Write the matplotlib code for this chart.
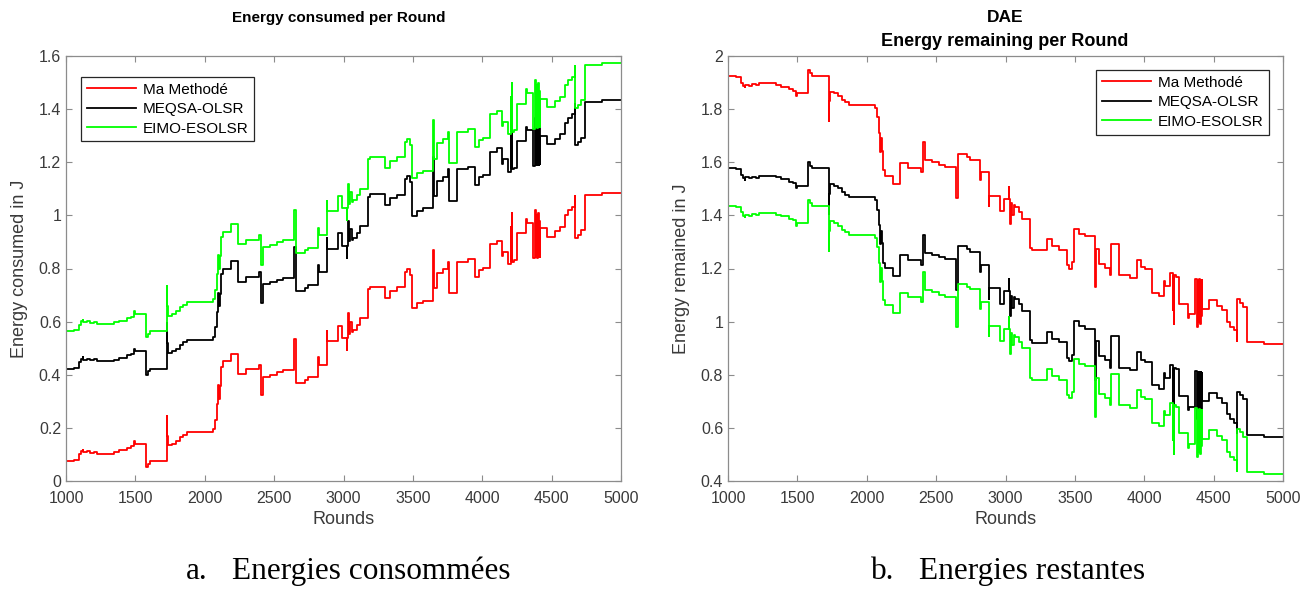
import matplotlib
matplotlib.use("Agg")
import matplotlib.pyplot as plt

rounds = [1000, 1060, 1095, 1105, 1119, 1125, 1150, 1175, 1200, 1226,
          1345, 1380, 1440, 1470, 1490, 1500, 1579, 1590, 1607, 1726,
          1730, 1735, 1762, 1790, 1821, 1845, 1869, 2060, 2075, 2090,
          2098, 2103, 2108, 2119, 2131, 2190, 2238, 2298, 2393, 2405,
          2417, 2470, 2520, 2566, 2643, 2658, 2722, 2746, 2818, 2824,
          2879, 2883, 2963, 2987, 3023, 3028, 3035, 3043, 3050, 3059,
          3071, 3095, 3119, 3179, 3191, 3299, 3335, 3383, 3443, 3455,
          3479, 3491, 3527, 3575, 3647, 3652, 3671, 3719, 3755, 3762,
          3820, 3899, 3947, 3980, 4007, 4055, 4103, 4139, 4151, 4187,
          4204, 4207, 4212, 4216, 4228, 4252, 4315, 4324, 4368, 4380,
          4384, 4392, 4396, 4402, 4406, 4410, 4414, 4416, 4469, 4524,
          4560, 4596, 4620, 4644, 4668, 4672, 4692, 4710, 4740, 4860,
          5000]

# Energy consumed (J)
ma_consumed = [0.075, 0.078, 0.100, 0.112, 0.118, 0.108, 0.112, 0.106, 0.110, 0.103,
               0.108, 0.115, 0.125, 0.130, 0.150, 0.141, 0.052, 0.065, 0.074, 0.246,
               0.170, 0.134, 0.140, 0.150, 0.165, 0.175, 0.184, 0.195, 0.230, 0.290,
               0.360, 0.310, 0.357, 0.430, 0.450, 0.480, 0.403, 0.420, 0.437, 0.324,
               0.393, 0.400, 0.410, 0.418, 0.533, 0.368, 0.380, 0.390, 0.465, 0.437,
               0.565, 0.527, 0.585, 0.537, 0.493, 0.537, 0.631, 0.555, 0.600, 0.560,
               0.568, 0.587, 0.612, 0.722, 0.732, 0.690, 0.716, 0.730, 0.788, 0.800,
               0.776, 0.650, 0.669, 0.679, 0.870, 0.725, 0.782, 0.797, 0.826, 0.707,
               0.826, 0.835, 0.767, 0.795, 0.803, 0.892, 0.905, 0.847, 0.864, 0.816,
               0.958, 0.830, 1.008, 0.826, 0.832, 0.932, 0.986, 0.973, 0.838, 1.020,
               0.842, 1.000, 0.840, 1.010, 0.842, 0.980, 0.845, 0.951, 0.920, 0.940,
               0.958, 1.000, 1.020, 1.033, 1.073, 0.916, 0.928, 0.945, 1.077, 1.086,
               1.086]

meqsa_consumed = [0.423, 0.426, 0.448, 0.460, 0.466, 0.456, 0.460, 0.454, 0.458, 0.451,
                  0.456, 0.463, 0.473, 0.478, 0.498, 0.489, 0.400, 0.413, 0.422, 0.594,
                  0.518, 0.482, 0.488, 0.498, 0.513, 0.523, 0.532, 0.543, 0.578, 0.638,
                  0.708, 0.658, 0.705, 0.778, 0.798, 0.828, 0.751, 0.768, 0.785, 0.672,
                  0.741, 0.748, 0.758, 0.766, 0.881, 0.716, 0.728, 0.738, 0.813, 0.785,
                  0.913, 0.875, 0.933, 0.885, 0.841, 0.885, 0.979, 0.903, 0.948, 0.908,
                  0.916, 0.935, 0.960, 1.070, 1.080, 1.038, 1.064, 1.078, 1.136, 1.148,
                  1.124, 0.998, 1.017, 1.027, 1.218, 1.073, 1.130, 1.145, 1.174, 1.055,
                  1.174, 1.183, 1.115, 1.143, 1.151, 1.240, 1.253, 1.195, 1.212, 1.164,
                  1.306, 1.178, 1.356, 1.174, 1.180, 1.280, 1.334, 1.321, 1.186, 1.368,
                  1.190, 1.348, 1.188, 1.358, 1.190, 1.328, 1.193, 1.299, 1.268, 1.288,
                  1.306, 1.348, 1.368, 1.381, 1.421, 1.264, 1.276, 1.293, 1.425, 1.434,
                  1.434]

eimo_consumed = [0.564, 0.567, 0.589, 0.601, 0.607, 0.597, 0.601, 0.595, 0.599, 0.592,
                 0.597, 0.604, 0.614, 0.619, 0.639, 0.630, 0.541, 0.554, 0.563, 0.735,
                 0.659, 0.623, 0.629, 0.639, 0.654, 0.664, 0.673, 0.684, 0.719, 0.779,
                 0.849, 0.799, 0.846, 0.919, 0.939, 0.969, 0.892, 0.909, 0.926, 0.813,
                 0.882, 0.889, 0.899, 0.907, 1.022, 0.857, 0.869, 0.879, 0.954, 0.926,
                 1.054, 1.016, 1.074, 1.026, 0.982, 1.026, 1.120, 1.044, 1.089, 1.049,
                 1.057, 1.076, 1.101, 1.211, 1.221, 1.179, 1.205, 1.219, 1.277, 1.289,
                 1.265, 1.139, 1.158, 1.168, 1.359, 1.214, 1.271, 1.286, 1.315, 1.196,
                 1.315, 1.324, 1.256, 1.284, 1.292, 1.381, 1.394, 1.336, 1.353, 1.305,
                 1.447, 1.319, 1.497, 1.315, 1.321, 1.421, 1.475, 1.462, 1.327, 1.509,
                 1.331, 1.489, 1.329, 1.499, 1.331, 1.469, 1.334, 1.440, 1.409, 1.429,
                 1.447, 1.489, 1.509, 1.522, 1.562, 1.405, 1.417, 1.434, 1.566, 1.575,
                 1.575]

# Energy remaining (J)
ma_remaining = [1.925, 1.922, 1.900, 1.888, 1.882, 1.892, 1.888, 1.894, 1.890, 1.897,
                1.892, 1.885, 1.875, 1.870, 1.850, 1.859, 1.948, 1.935, 1.926, 1.754,
                1.830, 1.866, 1.860, 1.850, 1.835, 1.825, 1.816, 1.805, 1.770, 1.710,
                1.640, 1.690, 1.643, 1.570, 1.550, 1.520, 1.597, 1.580, 1.563, 1.676,
                1.607, 1.600, 1.590, 1.582, 1.467, 1.632, 1.620, 1.610, 1.535, 1.563,
                1.435, 1.473, 1.415, 1.463, 1.507, 1.463, 1.369, 1.445, 1.400, 1.440,
                1.432, 1.413, 1.388, 1.278, 1.268, 1.310, 1.284, 1.270, 1.212, 1.200,
                1.224, 1.350, 1.331, 1.321, 1.130, 1.275, 1.218, 1.203, 1.174, 1.293,
                1.174, 1.165, 1.233, 1.205, 1.197, 1.108, 1.095, 1.153, 1.136, 1.184,
                1.042, 1.170, 0.992, 1.174, 1.168, 1.068, 1.014, 1.027, 1.162, 0.980,
                1.158, 1.000, 1.160, 0.990, 1.158, 1.020, 1.155, 1.049, 1.080, 1.060,
                1.042, 1.000, 0.980, 0.967, 0.927, 1.084, 1.072, 1.055, 0.923, 0.914,
                0.914]

meqsa_remaining = [1.577, 1.574, 1.552, 1.540, 1.534, 1.544, 1.540, 1.546, 1.542, 1.549,
                   1.544, 1.537, 1.527, 1.522, 1.502, 1.511, 1.600, 1.587, 1.578, 1.406,
                   1.482, 1.518, 1.512, 1.502, 1.487, 1.477, 1.468, 1.457, 1.422, 1.362,
                   1.292, 1.342, 1.295, 1.222, 1.202, 1.172, 1.249, 1.232, 1.215, 1.328,
                   1.259, 1.252, 1.242, 1.234, 1.119, 1.284, 1.272, 1.262, 1.187, 1.215,
                   1.087, 1.125, 1.067, 1.115, 1.159, 1.115, 1.021, 1.097, 1.052, 1.092,
                   1.084, 1.065, 1.040, 0.930, 0.920, 0.962, 0.936, 0.922, 0.864, 0.852,
                   0.876, 1.002, 0.983, 0.973, 0.782, 0.927, 0.870, 0.855, 0.826, 0.945,
                   0.826, 0.817, 0.885, 0.857, 0.849, 0.760, 0.747, 0.805, 0.788, 0.836,
                   0.694, 0.822, 0.644, 0.826, 0.820, 0.720, 0.666, 0.679, 0.814, 0.632,
                   0.810, 0.652, 0.812, 0.642, 0.810, 0.672, 0.807, 0.701, 0.732, 0.712,
                   0.694, 0.652, 0.632, 0.619, 0.579, 0.736, 0.724, 0.707, 0.575, 0.566,
                   0.566]

eimo_remaining = [1.436, 1.433, 1.411, 1.399, 1.393, 1.403, 1.399, 1.405, 1.401, 1.408,
                  1.403, 1.396, 1.386, 1.381, 1.361, 1.370, 1.459, 1.446, 1.437, 1.265,
                  1.341, 1.377, 1.371, 1.361, 1.346, 1.336, 1.327, 1.316, 1.281, 1.221,
                  1.151, 1.201, 1.154, 1.081, 1.061, 1.031, 1.108, 1.091, 1.074, 1.187,
                  1.118, 1.111, 1.101, 1.093, 0.978, 1.143, 1.131, 1.121, 1.046, 1.074,
                  0.946, 0.984, 0.926, 0.974, 1.018, 0.974, 0.880, 0.956, 0.911, 0.951,
                  0.943, 0.924, 0.899, 0.789, 0.779, 0.821, 0.795, 0.781, 0.723, 0.711,
                  0.735, 0.861, 0.842, 0.832, 0.641, 0.786, 0.729, 0.714, 0.685, 0.804,
                  0.685, 0.676, 0.744, 0.716, 0.708, 0.619, 0.606, 0.664, 0.647, 0.695,
                  0.553, 0.681, 0.503, 0.685, 0.679, 0.579, 0.525, 0.538, 0.673, 0.491,
                  0.669, 0.511, 0.671, 0.501, 0.669, 0.531, 0.666, 0.560, 0.591, 0.571,
                  0.553, 0.511, 0.491, 0.478, 0.438, 0.595, 0.583, 0.566, 0.434, 0.425,
                  0.425]

series_names = ["Ma Methodé", "MEQSA-OLSR", "EIMO-ESOLSR"]
series_colors = ["#ff0000", "#000000", "#00ff00"]

x_ticks = [1000, 1500, 2000, 2500, 3000, 3500, 4000, 4500, 5000]
left_yticks = [0, 0.2, 0.4, 0.6, 0.8, 1.0, 1.2, 1.4, 1.6]
right_yticks = [0.4, 0.6, 0.8, 1.0, 1.2, 1.4, 1.6, 1.8, 2.0]

plt.rcParams['font.family'] = ['Liberation Sans', 'DejaVu Sans']

fig = plt.figure(figsize=(13.14, 5.91), dpi=100)
W, H = 1314, 591


def ax_rect(x0, y0, x1, y1):
    return [x0 / W, (H - y1) / H, (x1 - x0) / W, (y1 - y0) / H]


axL = fig.add_axes(ax_rect(66, 56, 621, 481))
axR = fig.add_axes(ax_rect(728, 56, 1283, 481))

tick_color = "#3a3a3a"
spine_color = "#8c8c8c"


def fmt(v):
    s = ("%.1f" % v)
    if s.endswith(".0"):
        s = s[:-2]
    return s


def style(ax, yticks, ylim, ylabel):
    ax.set_xlim(1000, 5000)
    ax.set_ylim(*ylim)
    ax.set_xticks(x_ticks)
    ax.set_xticklabels([str(t) for t in x_ticks])
    ax.set_yticks(yticks)
    ax.set_yticklabels([fmt(t) for t in yticks])
    ax.tick_params(direction='in', length=4, width=0.8, colors=spine_color,
                   labelcolor=tick_color, labelsize=11.5,
                   top=True, right=True)
    ax.tick_params(axis='x', pad=7)
    for sp in ax.spines.values():
        sp.set_color(spine_color)
        sp.set_linewidth(0.9)
    ax.set_xlabel("Rounds", fontsize=13, color=tick_color, labelpad=4)
    ax.set_ylabel(ylabel, fontsize=13, color=tick_color, labelpad=8)


for vals, name, col in zip([ma_consumed, meqsa_consumed, eimo_consumed],
                           series_names, series_colors):
    axL.plot(rounds, vals, drawstyle='steps-post', color=col, lw=1.3, label=name)

for vals, name, col in zip([ma_remaining, meqsa_remaining, eimo_remaining],
                           series_names, series_colors):
    axR.plot(rounds, vals, drawstyle='steps-post', color=col, lw=1.3, label=name)

style(axL, left_yticks, (0, 1.6), "Energy consumed in J")
style(axR, right_yticks, (0.4, 2.0), "Energy remained in J")

for ax, loc, anchor in [(axL, 'upper left', (0.027, 0.951)),
                        (axR, 'upper right', (0.975, 0.967))]:
    leg = ax.legend(loc=loc, bbox_to_anchor=anchor, fontsize=11,
                    handlelength=3.2, handletextpad=0.45, borderpad=0.38,
                    labelspacing=0.36, fancybox=False, framealpha=1,
                    edgecolor="#262626", borderaxespad=0)
    leg.get_frame().set_linewidth(0.9)

fig.text(339 / W, 1 - 18 / H, "Energy consumed per Round", ha='center', va='center',
         fontsize=11, fontweight='bold', color='#000000')
fig.text(1005 / W, 1 - 18 / H, "DAE", ha='center', va='center',
         fontsize=12.5, fontweight='bold', color='#000000')
fig.text(1005 / W, 1 - 42 / H, "Energy remaining per Round", ha='center', va='center',
         fontsize=13, fontweight='bold', color='#000000')

serif = ['Liberation Serif', 'DejaVu Serif']
cap_size = 22.5
fig.text(186 / W, 1 - 579 / H, "a.", ha='left', va='baseline',
         fontsize=cap_size, family=serif, color='#000000')
fig.text(232 / W, 1 - 579 / H, "Energies consommées", ha='left', va='baseline',
         fontsize=cap_size, family=serif, color='#000000')
fig.text(871 / W, 1 - 579 / H, "b.", ha='left', va='baseline',
         fontsize=cap_size, family=serif, color='#000000')
fig.text(919 / W, 1 - 579 / H, "Energies restantes", ha='left', va='baseline',
         fontsize=cap_size, family=serif, color='#000000')

fig.savefig("out.png", dpi=100)
